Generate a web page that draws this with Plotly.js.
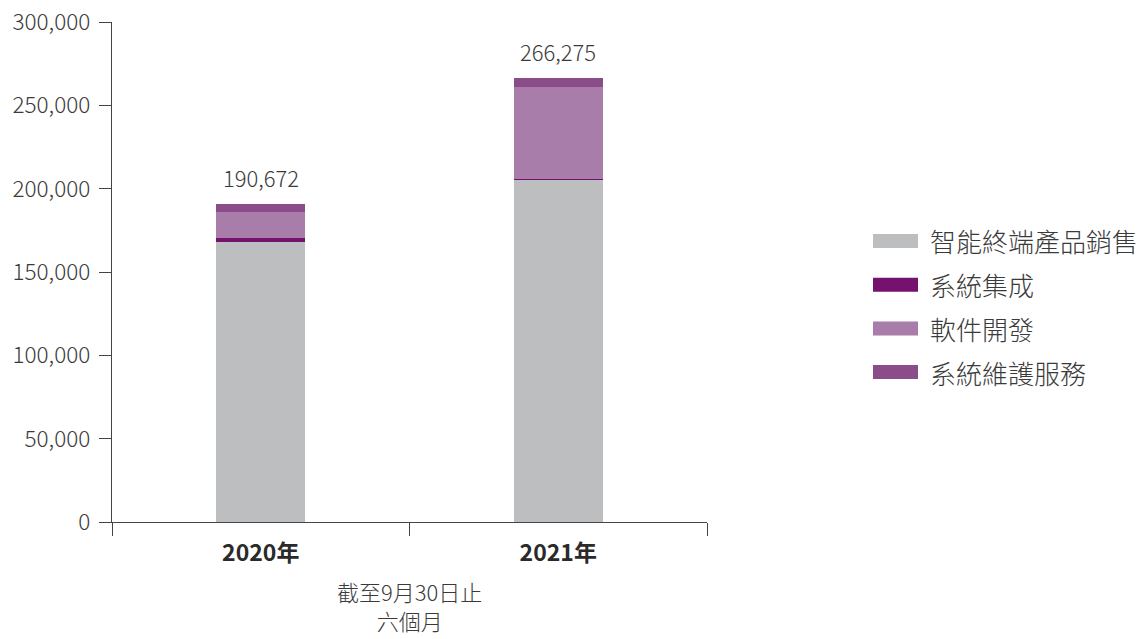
<!DOCTYPE html>
<html>
<head>
<meta charset="utf-8">
<script src="https://cdn.plot.ly/plotly-3.0.1.min.js"></script>
<style>html,body{margin:0;padding:0;background:#fff;}#chart{width:1143px;height:639px;}</style>
</head>
<body>
<div id="chart"></div>
<script>
const categories = ['2020年', '2021年'];
const seriesNames = ['智能終端產品銷售', '系統集成', '軟件開發', '系統維護服務'];
const smartTerminal = [168000, 205200];
const systemIntegration = [2300, 675];
const softwareDev = [15700, 55000];
const maintenance = [4672, 5400];
const totals = [190672, 266275];
const yTickVals = [0, 50000, 100000, 150000, 200000, 250000, 300000];
const yTickText = ['0', '50,000', '100,000', '150,000', '200,000', '250,000', '300,000'];
const xTitle = '截至9月30日止<br>六個月';
const colors = ['#BCBEC0', '#74126E', '#A87DAA', '#8B4D8A'];

const font = '"Noto Sans CJK TC", "Noto Sans", sans-serif';
const txt = '#3a3a3a';
const seriesValues = [smartTerminal, systemIntegration, softwareDev, maintenance];

const traces = seriesValues.map((vals, i) => ({
  type: 'bar', x: categories, y: vals, name: seriesNames[i],
  marker: {color: colors[i], line: {width: 0}}, width: 0.3,
  showlegend: false, hoverinfo: 'x+y+name'
}));

const shapes = [], annotations = [];
categories.forEach((c, i) => {
  annotations.push({x: c, y: totals[i], xref: 'x', yref: 'y', yanchor: 'bottom', yshift: 9,
    showarrow: false, text: totals[i].toLocaleString('en-US'),
    font: {family: font, size: 22, color: txt, weight: 300}});
});
annotations.push({xref: 'paper', yref: 'paper', x: 0.5, y: (522 - 605) / 500,
  xanchor: 'center', yanchor: 'middle', showarrow: false, text: xTitle, align: 'center',
  font: {family: font, size: 22, color: txt, weight: 300}});
seriesNames.forEach((n, i) => {
  const yc = 241 + i * 43.7;
  shapes.push({type: 'rect', xref: 'paper', yref: 'paper',
    x0: (873 - 112) / 595, x1: (918 - 112) / 595,
    y0: (522 - (yc + 7)) / 500, y1: (522 - (yc - 7)) / 500,
    fillcolor: colors[i], line: {width: 0}});
  annotations.push({xref: 'paper', yref: 'paper', x: (928 - 112) / 595, y: (522 - yc) / 500,
    xanchor: 'left', yanchor: 'middle', showarrow: false, text: n,
    font: {family: font, size: 26, color: txt, weight: 300}});
});

const layout = {
  width: 1143, height: 639,
  margin: {l: 112, r: 436, t: 22, b: 117},
  paper_bgcolor: '#fff', plot_bgcolor: '#fff',
  barmode: 'stack', showlegend: false,
  xaxis: {
    type: 'category', tickson: 'boundaries', ticks: 'outside', ticklen: 13, tickcolor: '#444',
    showline: true, linecolor: '#444', linewidth: 1.2, showgrid: false, zeroline: false,
    ticklabelstandoff: 10,
    tickfont: {family: font, size: 23, color: '#2a2a2a', weight: 'bold'}
  },
  yaxis: {
    range: [0, 300000], tickvals: yTickVals, ticktext: yTickText,
    ticks: 'outside', ticklen: 12, tickcolor: '#444',
    showline: true, linecolor: '#444', linewidth: 1.2, showgrid: false, zeroline: false,
    ticklabelstandoff: 4,
    tickfont: {family: font, size: 22.5, color: txt, weight: 300}
  },
  shapes: shapes, annotations: annotations
};
Plotly.newPlot('chart', traces, layout, {displayModeBar: false, staticPlot: true});
</script>
</body>
</html>
